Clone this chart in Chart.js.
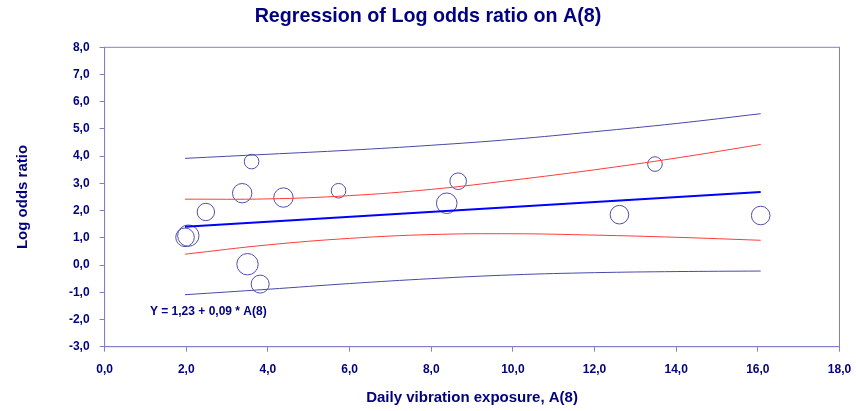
<!DOCTYPE html>
<html>
<head>
<meta charset="utf-8">
<script src="https://cdn.jsdelivr.net/npm/chart.js@4.4.1/dist/chart.umd.min.js"></script>
<style>
  html, body { margin: 0; padding: 0; background: #fff; }
  #wrap { width: 856px; height: 411px; }
</style>
</head>
<body>
<div id="wrap"><canvas id="chart"></canvas></div>
<script>
// studies: exposure A(8), log odds ratio, weight (bubble size)
const pointX = [3.60, 3.37, 4.38, 5.73, 2.48, 2.05, 1.97, 3.50, 3.81, 8.38, 8.66, 13.48, 12.61, 16.07];
const pointY = [3.80, 2.64, 2.48, 2.73, 1.95, 1.08, 1.02, 0.03, -0.70, 2.27, 3.08, 3.71, 1.85, 1.82];
const pointW = [7.3, 9.7, 9.7, 7.3, 8.7, 10.7, 9.3, 10.7, 9, 10.3, 8.3, 7.3, 9.3, 9.3];

// regression line and bands
const fitX = [1.97, 16.07];
const fitY = [1.41, 2.68];
const bandX = [1.97, 4, 6, 8, 10, 12, 14, 16.07];
const upperPred = [3.92, 4.07, 4.22, 4.40, 4.62, 4.90, 5.20, 5.56];
const upperConf = [2.42, 2.43, 2.55, 2.78, 3.12, 3.50, 3.93, 4.43];
const lowerConf = [0.40, 0.74, 0.98, 1.12, 1.15, 1.10, 1.02, 0.91];
const lowerPred = [-1.09, -0.89, -0.68, -0.50, -0.36, -0.28, -0.24, -0.22];

const title = 'Regression of Log odds ratio on A(8)';
const equation = 'Y = 1,23 + 0,09 * A(8)';

const navy = '#000080';
const axisColor = '#8080c8';
const fontFam = '"Liberation Sans", Arial, sans-serif';

const xy = (xs, ys) => xs.map((x, i) => ({ x: x, y: ys[i] }));
const fmt = v => v.toFixed(1).replace('.', ',');

function bandLine(ys, color, width) {
    return {
        type: 'line',
        data: xy(bandX, ys),
        borderColor: color,
        borderWidth: width,
        pointRadius: 0,
        tension: 0.4,
        fill: false
    };
}

// frame round the plot, title on the page centre, equation text
const framePlugin = {
    id: 'frame',
    beforeDatasetsDraw(chart) {
        const a = chart.chartArea, ctx = chart.ctx;
        ctx.save();
        ctx.strokeStyle = axisColor;
        ctx.lineWidth = 1;
        ctx.strokeRect(a.left, a.top, a.right - a.left, a.bottom - a.top);
        ctx.restore();
    },
    afterDraw(chart) {
        const ctx = chart.ctx;
        ctx.save();
        ctx.fillStyle = navy;
        ctx.textBaseline = 'middle';
        ctx.textAlign = 'center';
        ctx.font = 'bold 19.7px ' + fontFam;
        ctx.fillText(title, chart.width / 2, 17);
        ctx.textAlign = 'left';
        ctx.font = 'bold 12px ' + fontFam;
        ctx.fillText(equation, chart.scales.x.getPixelForValue(1.11), chart.scales.y.getPixelForValue(-1.72));
        ctx.restore();
    }
};

new Chart(document.getElementById('chart'), {
    type: 'bubble',
    data: {
        datasets: [
            bandLine(upperPred, '#4848a8', 1),
            bandLine(upperConf, '#ff3b3b', 1),
            {
                type: 'line',
                data: xy(fitX, fitY),
                borderColor: '#0000ff',
                borderWidth: 2,
                pointRadius: 0,
                fill: false
            },
            bandLine(lowerConf, '#ff3b3b', 1),
            bandLine(lowerPred, '#4848a8', 1),
            {
                type: 'bubble',
                data: pointX.map((x, i) => ({ x: x, y: pointY[i], r: pointW[i] })),
                backgroundColor: 'rgba(0,0,0,0)',
                borderColor: '#5050a8',
                borderWidth: 1
            }
        ]
    },
    options: {
        responsive: true,
        maintainAspectRatio: false,
        animation: false,
        layout: { padding: { left: 0, right: 0, top: 47.3, bottom: 0 } },
        plugins: {
            legend: { display: false },
            tooltip: { enabled: false },
            title: { display: false }
        },
        scales: {
            x: {
                type: 'linear',
                min: 0, max: 18,
                ticks: { stepSize: 2, color: navy, padding: 11, maxRotation: 0,
                         font: { family: fontFam, size: 12, weight: 'bold' }, callback: fmt },
                grid: { drawOnChartArea: false, tickLength: 5, color: axisColor },
                border: { color: axisColor },
                title: { display: true, text: 'Daily vibration exposure, A(8)', color: navy,
                         font: { family: fontFam, size: 15, weight: 'bold' }, padding: { top: 0, bottom: 4 } },
                afterFit: s => { s.height = 64.3; s.paddingRight = 16.5; }
            },
            y: {
                type: 'linear',
                min: -3, max: 8,
                ticks: { stepSize: 1, color: navy, padding: 10,
                         font: { family: fontFam, size: 12, weight: 'bold' }, callback: fmt },
                grid: { drawOnChartArea: false, tickLength: 5, color: axisColor },
                border: { color: axisColor },
                title: { display: true, text: 'Log odds ratio', color: navy,
                         font: { family: fontFam, size: 15, weight: 'bold' }, padding: { top: 14, bottom: 0 } },
                afterFit: s => { s.width = 104.6; }
            }
        }
    },
    plugins: [framePlugin]
});
</script>
</body>
</html>
